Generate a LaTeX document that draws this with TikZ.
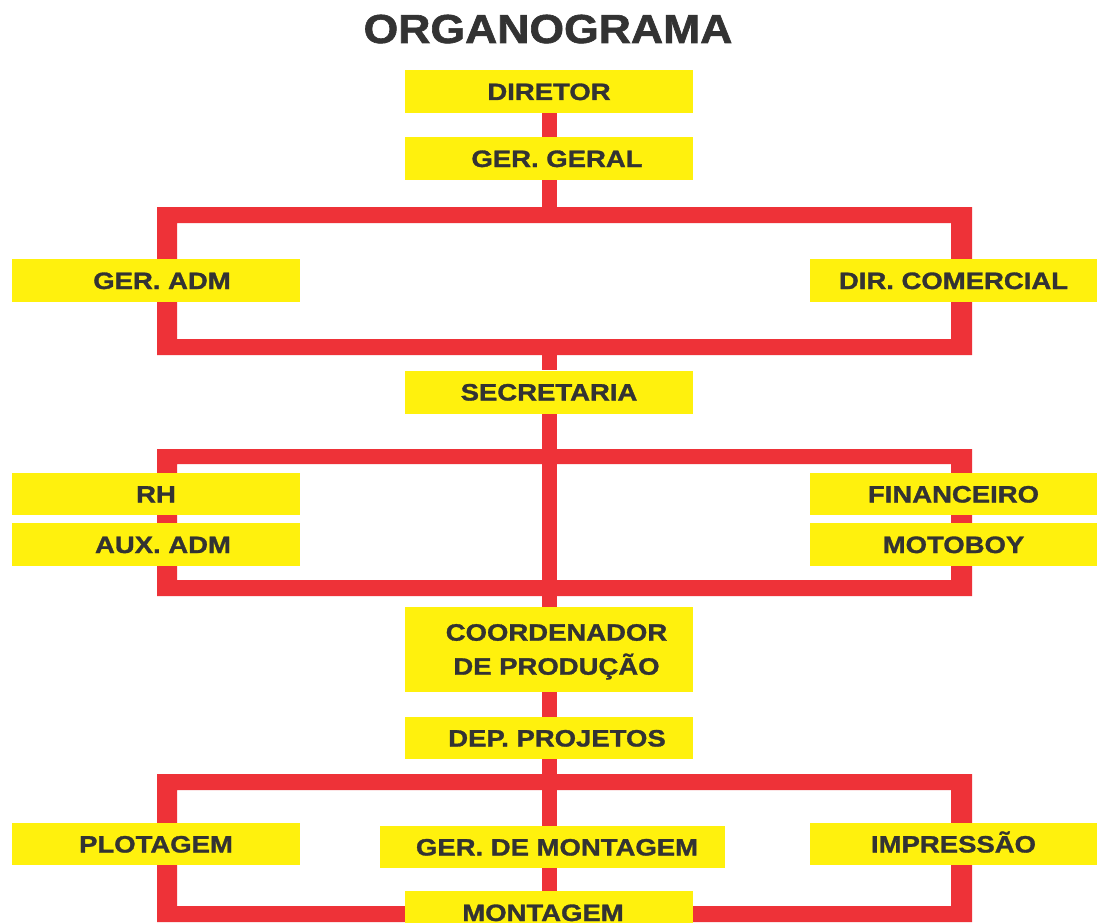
\documentclass[tikz,border=0pt]{standalone}
\usepackage{fontspec}
\setmainfont{Liberation Sans}
\newfontfamily\bxfont{Liberation Sans}[FakeStretch=1.16,FakeBold=1.3]
\newfontfamily\ttlfont{Liberation Sans}[FakeStretch=1.10,FakeBold=1.5]
\usetikzlibrary{backgrounds}
\definecolor{orgyellow}{HTML}{FFF10D}
\definecolor{orgred}{HTML}{EE3238}
\definecolor{orgtext}{HTML}{333333}
\newcommand{\shft}[1]{\hspace*{#1pt}}
\begin{document}
\begin{tikzpicture}[x=1pt,y=-1pt,
  bx/.style={fill=orgyellow, inner sep=0pt, minimum width=288pt, minimum height=43pt,
    text=orgtext, font=\bxfont\bfseries\fontsize{23.7}{34}\selectfont},
  one/.style={text height=17pt, text depth=0pt},
  vline/.style={draw=orgred, line width=15pt},
  frame/.style={fill=orgred, even odd rule}]
\useasboundingbox (0,0) rectangle (1097,923);
\clip (0,0) rectangle (1097,923);

% title
\node[text=orgtext, font=\ttlfont\bfseries\fontsize{40.5}{44}\selectfont,
  text height=29pt, text depth=0pt, inner sep=0pt] (title) at (548,28.5) {ORGANOGRAMA};

% frames
\fill[frame] (157,207) rectangle (972,355) (177,223) rectangle (951,339);
\fill[frame] (157,449) rectangle (972,596) (177,464) rectangle (951,580);
\fill[frame] (157,774) rectangle (972,922) (177,790) rectangle (951,906);
\coordinate (f1t) at (549,215);
\coordinate (f1b) at (549,347);

% boxes
\node[bx,one] (dir) at (549,91.5) {DIRETOR};
\node[bx,one] (gg) at (549,158.5) {\shft{16}GER. GERAL};
\node[bx,one] (gadm) at (156,280.5) {\shft{12}GER. ADM};
\node[bx,one,minimum width=287pt] (dcom) at (953.5,280.5) {DIR. COMERCIAL};
\node[bx,one] (sec) at (549,392) {SECRETARIA};
\node[bx,one,minimum height=42pt] (rh) at (156,494) {RH};
\node[bx,one] (aux) at (156,544.5) {\shft{14}AUX. ADM};
\node[bx,one,minimum width=287pt,minimum height=42pt] (fin) at (953.5,494) {FINANCEIRO};
\node[bx,one,minimum width=287pt] (moto) at (953.5,544.5) {MOTOBOY};
\node[bx,minimum height=85pt,align=center] (coord) at (549,649.5)
  {\shft{15}COORDENADOR\\\shft{15}DE PRODU\smash{ÇÃ}O};
\node[bx,one,minimum height=42pt] (dep) at (549,738) {\shft{16}DEP. PROJETOS};
\node[bx,one,minimum height=42pt] (plot) at (156,844) {PLOTAGEM};
\node[bx,one,minimum width=345pt,minimum height=42pt] (gdm) at (552.5,847) {\shft{9}GER. DE MONTAGEM};
\node[bx,one,minimum width=287pt,minimum height=42pt] (imp) at (953.5,844) {IMPRESSÃO};
\node[bx,one] (mont) at (549,912.5) {\shft{-12}MONTAGEM};

\begin{pgfonlayer}{background}
\fill[white] (0,0) rectangle (1097,923);
\draw[vline] (dir.south) -- (gg.north);
\draw[vline] (gg.south) -- (f1t);
\draw[vline] (f1b) -- (sec.north);
\draw[vline] (sec.south) -- (coord.north);
\draw[vline] (coord.south) -- (dep.north);
\draw[vline] (dep.south) -- (mont.north);
\end{pgfonlayer}
\end{tikzpicture}
\end{document}
